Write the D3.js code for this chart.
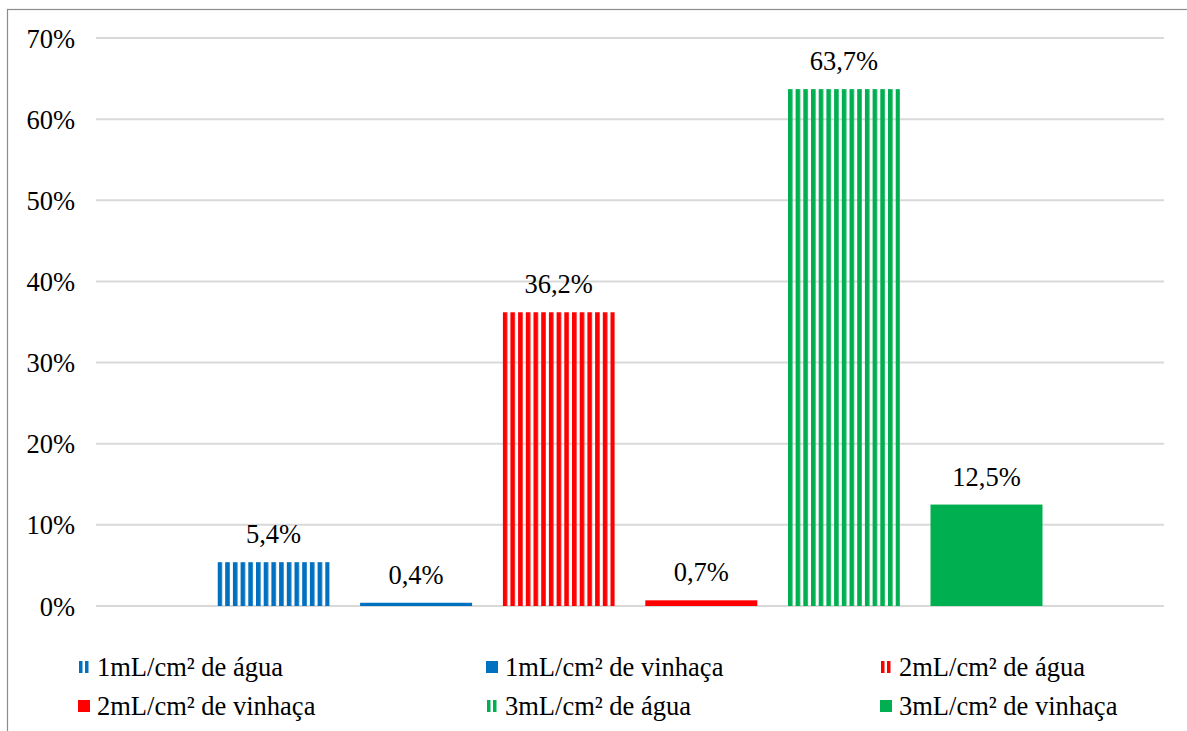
<!DOCTYPE html>
<html><head><meta charset="utf-8">
<script src="https://cdn.jsdelivr.net/npm/d3@7/dist/d3.min.js"></script>
<style>body{margin:0;background:#fff}svg{display:block}svg text{font-family:'Liberation Serif','DejaVu Serif','Times New Roman',serif !important;fill:#000}</style>
</head><body><svg id="c" width="1187" height="731"></svg>
<script>
const seriesNames = ["1mL/cm² de água","1mL/cm² de vinhaça","2mL/cm² de água","2mL/cm² de vinhaça","3mL/cm² de água","3mL/cm² de vinhaça"];
const seriesValues = [5.4, 0.4, 36.2, 0.7, 63.7, 12.5];
const valueLabels = ["5,4%","0,4%","36,2%","0,7%","63,7%","12,5%"];
const seriesColors = ["#0070C0","#0070C0","#FF0000","#FF0000","#00B050","#00B050"];
const seriesStriped = [true,false,true,false,true,false];
const yTicks = [0,10,20,30,40,50,60,70];
const yTickLabels = ["0%","10%","20%","30%","40%","50%","60%","70%"];

const FONT = "'Liberation Serif','DejaVu Serif','Times New Roman',serif";
const FS = 26.5;
const svg = d3.select("#c");
svg.append("rect").attr("x",7.5).attr("y",9.5).attr("width",1250).attr("height",800)
  .attr("fill","#fff").attr("stroke","#8c8c8c").attr("stroke-width",1.2);

const y = d3.scaleLinear().domain([0,70]).range([606,38]);
const x = d3.scaleBand().domain(seriesNames).range([96,1164]).paddingInner(0.2146).paddingOuter(0.852);

const defs = svg.append("defs");
seriesNames.forEach((s,i)=>{
  if(!seriesStriped[i]) return;
  const p = defs.append("pattern").attr("id","pat"+i).attr("patternUnits","userSpaceOnUse")
    .attr("x",x(s)).attr("y",0).attr("width",7.7).attr("height",10);
  p.append("rect").attr("x",0).attr("y",0).attr("width",4.6).attr("height",10).attr("fill",seriesColors[i]);
});

svg.append("g").selectAll("line").data(yTicks).join("line")
  .attr("x1",96).attr("x2",1164).attr("y1",d=>y(d)).attr("y2",d=>y(d))
  .attr("stroke","#d9d9d9").attr("stroke-width",2);

const yAxis = d3.axisLeft(y).tickValues(yTicks).tickFormat((d,i)=>yTickLabels[i]).tickSize(0).tickPadding(0);
const ga = svg.append("g").attr("transform","translate(75,0)").call(yAxis).attr("font-family",FONT).attr("font-size",FS);
ga.select(".domain").remove();
ga.selectAll("text").style("font-family",FONT).attr("fill","#000").attr("dy","0.34em");

svg.append("g").selectAll("rect").data(seriesNames).join("rect")
  .attr("x",d=>x(d)).attr("width",x.bandwidth())
  .attr("y",(d,i)=>y(seriesValues[i])).attr("height",(d,i)=>y(0)-y(seriesValues[i]))
  .attr("fill",(d,i)=>seriesStriped[i]?`url(#pat${i})`:seriesColors[i]);

svg.append("g").selectAll("text").data(seriesNames).join("text")
  .attr("x",d=>x(d)+x.bandwidth()/2).attr("y",(d,i)=>y(seriesValues[i])-19)
  .attr("text-anchor","middle").attr("font-size",FS).style("font-family",FONT).text((d,i)=>valueLabels[i]);

const legCols = [78,486,880];
const legRows = [667,706];
const lg = svg.append("g");
seriesNames.forEach((s,i)=>{
  const lx = legCols[i%3], ly = legRows[Math.floor(i/3)];
  const g = lg.append("g");
  if(seriesStriped[i]){
    g.append("rect").attr("x",lx+1).attr("y",ly-6).attr("width",3.5).attr("height",12).attr("fill",seriesColors[i]);
    g.append("rect").attr("x",lx+7).attr("y",ly-6).attr("width",3.5).attr("height",12).attr("fill",seriesColors[i]);
  } else {
    g.append("rect").attr("x",lx).attr("y",ly-6).attr("width",12).attr("height",12).attr("fill",seriesColors[i]);
  }
  g.append("text").attr("x",lx+19).attr("y",ly).attr("dy","0.34em").attr("font-size",FS).style("font-family",FONT).text(s);
});
</script></body></html>
